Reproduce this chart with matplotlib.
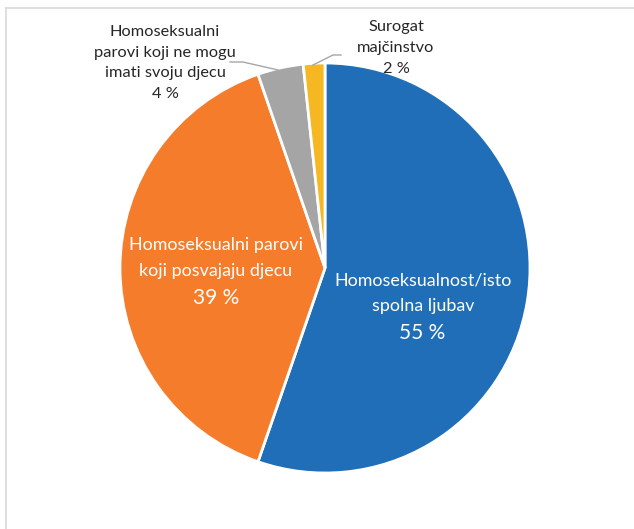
import numpy as np
import matplotlib
matplotlib.use("Agg")
import matplotlib.pyplot as plt
from matplotlib.lines import Line2D

plt.rcParams['font.family'] = ['Lato', 'DejaVu Sans']

categories = ["Homoseksualnost/isto\nspolna ljubav",
              "Homoseksualni parovi\nkoji posvajaju djecu",
              "Homoseksualni\nparovi koji ne mogu\nimati svoju djecu",
              "Surogat\nmajčinstvo"]
values = [55.3, 39.4, 3.6, 1.7]
pct_labels = ["55 %", "39 %", "4 %", "2 %"]
colors = ["#1F6EB7", "#F47C2A", "#A5A5A5", "#F5B823"]

W, H = 634, 529
fig = plt.figure(figsize=(W / 100, H / 100), dpi=100)

# pie centre (325,268) px, radius 205 px
cx, cy, r = 325, 268, 205
ax = fig.add_axes([(cx - r) / W, (H - cy - r) / H, 2 * r / W, 2 * r / H])
ax.pie(values, colors=colors, startangle=90, counterclock=False,
       wedgeprops=dict(edgecolor="white", linewidth=2))
ax.set_xlim(-1, 1)
ax.set_ylim(-1, 1)
ax.set_aspect("equal")
ax.axis("off")


def d(px, py):
    # pixel -> data coords of the pie axes
    return (px - cx) / r, (cy - py) / r


# inside labels
x, y = d(423, 293)
ax.text(x, y, categories[0], ha="center", va="center", color="white",
        fontsize=12.9, linespacing=1.75)
x, y = d(422, 333)
ax.text(x, y, pct_labels[0], ha="center", va="center", color="white", fontsize=15)
x, y = d(216, 258)
ax.text(x, y, categories[1], ha="center", va="center", color="white",
        fontsize=12.9, linespacing=1.75)
x, y = d(216, 298)
ax.text(x, y, pct_labels[1], ha="center", va="center", color="white", fontsize=15)

# outside labels
x, y = d(165, 63)
ax.text(x, y, categories[2] + "\n" + pct_labels[2], ha="center", va="center",
        color="#262626", fontsize=11.8, linespacing=1.62, clip_on=False)
x, y = d(396, 48)
ax.text(x, y, categories[3] + "\n" + pct_labels[3], ha="center", va="center",
        color="#262626", fontsize=11.8, linespacing=1.62, clip_on=False)

# leader lines
pts = [d(*p) for p in [(230, 62), (243, 62), (278, 70)]]
ax.plot([p[0] for p in pts], [p[1] for p in pts], color="#A6A6A6", lw=1, clip_on=False)
pts = [d(*p) for p in [(313, 65), (333, 55), (341, 55)]]
ax.plot([p[0] for p in pts], [p[1] for p in pts], color="#A6A6A6", lw=1, clip_on=False)

# chart frame (top and left visible)
fig.add_artist(Line2D([6 / W, 1], [1 - 8 / H, 1 - 8 / H], color="#D9D9D9", lw=1.2))
fig.add_artist(Line2D([6 / W, 6 / W], [0, 1 - 8 / H], color="#D9D9D9", lw=1.2))

fig.savefig("out.png", dpi=100)
